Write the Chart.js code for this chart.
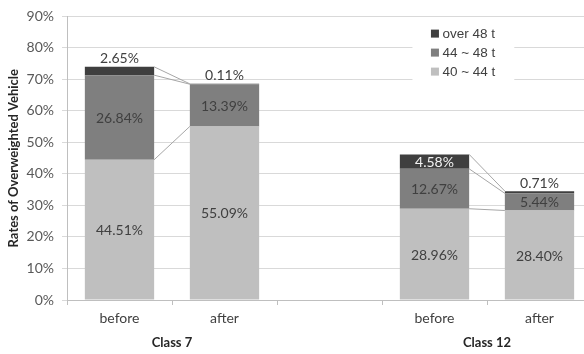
<!DOCTYPE html>
<html>
<head>
<meta charset="utf-8">
<script src="https://cdn.jsdelivr.net/npm/chart.js@4/dist/chart.umd.min.js"></script>
<style>
  html, body { margin: 0; padding: 0; background: #fff; overflow: hidden; }
  #frame { width: 584px; height: 354px; overflow: hidden; position: relative; }
  #wrap { width: 597px; height: 354px; position: absolute; left: 0; top: 0; }
</style>
</head>
<body>
<div id="frame"><div id="wrap"><canvas id="chart"></canvas></div></div>
<script>
// Categories along the x axis (the blank slot separates the two vehicle classes)
const categories = ['before', 'after', '', 'before', 'after'];
// Vehicle classes and the category indices each one spans
const groupLabels = ['Class 7', 'Class 12'];
const groupSpans = [[0, 1], [3, 4]];

// Share of overweighted vehicles (%) by weight band
const seriesNames = ['40 ~ 44 t', '44 ~ 48 t', 'over 48 t'];
const band40to44 = [44.51, 55.09, null, 28.96, 28.40];
const band44to48 = [26.84, 13.39, null, 12.67, 5.44];
const bandOver48 = [2.65, 0.11, null, 4.58, 0.71];

// Y axis ticks
const yTicks = [0, 10, 20, 30, 40, 50, 60, 70, 80, 90];

const colors = ['#bfbfbf', '#7f7f7f', '#3f3f3f'];
const labelFont = '14px Lato';
const textColor = '#404040';

// Half-step label row for the class names: each name sits on the boundary
// between the two categories of its class.
const groupRow = new Array(categories.length * 2 + 1).fill('');
groupSpans.forEach(([a, b], g) => { groupRow[a + b + 1] = groupLabels[g]; });

// Connector lines between the two bars of each class, then value labels
const barDecor = {
  id: 'barDecor',
  afterDatasetsDraw(chart) {
    const ctx = chart.ctx;
    ctx.save();
    ctx.strokeStyle = '#a6a6a6';
    ctx.lineWidth = 1;
    chart.data.datasets.forEach((ds, d) => {
      const meta = chart.getDatasetMeta(d);
      groupSpans.forEach(([a, b]) => {
        const e0 = meta.data[a], e1 = meta.data[b];
        ctx.beginPath();
        ctx.moveTo(e0.x + e0.width / 2, e0.y);
        ctx.lineTo(e1.x - e1.width / 2, e1.y);
        ctx.stroke();
      });
    });
    ctx.font = labelFont;
    ctx.textAlign = 'center';
    ctx.textBaseline = 'middle';
    const last = chart.data.datasets.length - 1;
    chart.data.datasets.forEach((ds, d) => {
      const meta = chart.getDatasetMeta(d);
      ds.data.forEach((v, i) => {
        if (v == null) return;
        const el = meta.data[i];
        const txt = v.toFixed(2) + '%';
        if (d === last && v < 3) {
          ctx.fillStyle = textColor;
          ctx.fillText(txt, el.x, el.y - 8);
        } else {
          ctx.fillStyle = d === last ? '#f2f2f2' : textColor;
          ctx.fillText(txt, el.x, (el.y + el.base) / 2 + 1);
        }
      });
    });
    ctx.restore();
  },
  afterDraw(chart) {
    // Legend inside the plot, top band listed first
    const ctx = chart.ctx;
    const x = chart.scales.x;
    const y = chart.scales.y;
    const boxL = x.getPixelForValue(2.79);
    const boxR = x.getPixelForValue(3.76);
    const boxT = y.getPixelForValue(89.3);
    const boxB = y.getPixelForValue(69.6);
    ctx.save();
    ctx.fillStyle = '#ffffff';
    ctx.fillRect(boxL, boxT, boxR - boxL, boxB - boxT);
    ctx.font = '13.5px "Liberation Sans", Arial, sans-serif';
    ctx.textBaseline = 'middle';
    ctx.textAlign = 'left';
    const n = chart.data.datasets.length;
    for (let k = 0; k < n; k++) {
      const d = n - 1 - k;
      const cy = boxT + 15 + k * 19;
      const sx = boxL + 18.5;
      ctx.fillStyle = chart.data.datasets[d].backgroundColor;
      ctx.fillRect(sx, cy - 4, 8, 8);
      ctx.fillStyle = textColor;
      ctx.fillText(chart.data.datasets[d].label, sx + 11.5, cy + 0.5);
    }
    ctx.restore();
  }
};

new Chart(document.getElementById('chart'), {
  type: 'bar',
  data: {
    labels: categories,
    datasets: [
      { label: seriesNames[0], data: band40to44, backgroundColor: colors[0] },
      { label: seriesNames[1], data: band44to48, backgroundColor: colors[1] },
      { label: seriesNames[2], data: bandOver48, backgroundColor: colors[2] }
    ]
  },
  plugins: [barDecor],
  options: {
    responsive: true,
    maintainAspectRatio: false,
    animation: false,
    layout: { padding: { top: 12, right: 0, left: 0, bottom: 0 } },
    datasets: { bar: { categoryPercentage: 0.66, barPercentage: 1 } },
    plugins: { legend: { display: false }, tooltip: { enabled: false } },
    scales: {
      x: {
        stacked: true,
        weight: 0,
        grid: { display: true, drawOnChartArea: false, drawTicks: true, tickLength: 5, color: '#bfbfbf' },
        border: { display: true, color: '#bfbfbf' },
        ticks: { color: textColor, font: { family: 'Lato', size: 14 }, padding: 5 },
        afterFit(s) { s.height = 30; }
      },
      group: {
        type: 'category',
        labels: groupRow,
        position: 'bottom',
        weight: 1,
        offset: false,
        grid: { display: false, drawTicks: false },
        border: { display: false },
        ticks: {
          color: '#262626',
          font: { family: 'Lato', size: 13, weight: 'bold' },
          padding: 5,
          autoSkip: false,
          maxRotation: 0
        },
        afterFit(s) { s.height = 24; }
      },
      y: {
        stacked: true,
        min: 0,
        max: 90,
        afterBuildTicks(s) { s.ticks = yTicks.map(v => ({ value: v })); },
        grid: { color: '#d9d9d9', tickLength: 5 },
        border: { display: true, color: '#bfbfbf' },
        ticks: { color: '#595959', font: { family: 'Lato', size: 14 }, padding: 8, callback: v => v + '%' },
        title: {
          display: true,
          text: 'Rates of Overweighted Vehicle',
          color: '#262626',
          font: { family: 'Lato', size: 13, weight: 'bold' },
          padding: { top: 6, bottom: 0 }
        },
        afterFit(s) { s.width = 67; }
      }
    }
  }
});
</script>
</body>
</html>
